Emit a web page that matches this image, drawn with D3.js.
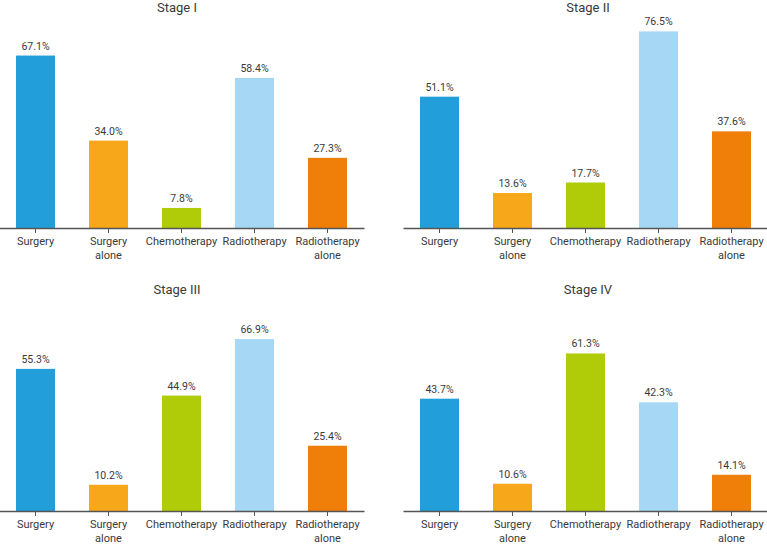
<!DOCTYPE html>
<html>
<head>
<meta charset="utf-8">
<script src="https://cdn.jsdelivr.net/npm/d3@7"></script>
<style>
  body { margin: 0; background: #fff; }
  svg text { font-family: "Roboto", "Noto Sans", sans-serif; fill: #3a3a3a; }
</style>
</head>
<body>
<svg id="chart"></svg>
<script>
const width = 767, height = 544;

// data
const categories = ["Surgery", "Surgery alone", "Chemotherapy", "Radiotherapy", "Radiotherapy alone"];
const stages = ["Stage I", "Stage II", "Stage III", "Stage IV"];
const stage1 = [67.1, 34.0, 7.8, 58.4, 27.3];
const stage2 = [51.1, 13.6, 17.7, 76.5, 37.6];
const stage3 = [55.3, 10.2, 44.9, 66.9, 25.4];
const stage4 = [43.7, 10.6, 61.3, 42.3, 14.1];
const stageValues = [stage1, stage2, stage3, stage4];
const colors = ["#229fdb", "#f6a81a", "#b0cb07", "#a6d8f5", "#f07f0a"];

const svg = d3.select("#chart")
    .attr("width", width)
    .attr("height", height);

const color = d3.scaleOrdinal().domain(categories).range(colors);

// panel layout: x range and axis baseline for each panel
const panels = [
    {x0: -1, x1: 364, base: 228, titleX: 177, titleY: 12},
    {x0: 403, x1: 768, base: 228, titleX: 588, titleY: 12},
    {x0: -1, x1: 364, base: 511, titleX: 177, titleY: 294},
    {x0: 403, x1: 768, base: 511, titleX: 588, titleY: 294}
];

panels.forEach((p, i) => {
    const data = categories.map((c, j) => ({cat: c, value: stageValues[i][j]}));

    const x = d3.scaleBand()
        .domain(categories)
        .range([p.x0, p.x1])
        .paddingInner(0.466)
        .paddingOuter(0.233);

    const y = d3.scaleLinear()
        .domain([0, 80])
        .range([p.base, p.base - 205.6]);

    const g = svg.append("g");

    g.append("text")
        .attr("x", p.titleX)
        .attr("y", p.titleY)
        .attr("text-anchor", "middle")
        .style("font-size", "13px")
        .text(stages[i]);

    g.selectAll("rect")
        .data(data)
        .enter().append("rect")
        .attr("x", d => x(d.cat))
        .attr("y", d => y(d.value))
        .attr("width", x.bandwidth())
        .attr("height", d => y(0) - y(d.value))
        .attr("fill", d => color(d.cat));

    g.selectAll(".val")
        .data(data)
        .enter().append("text")
        .attr("class", "val")
        .attr("x", d => x(d.cat) + x.bandwidth() / 2)
        .attr("y", d => y(d.value) - 6)
        .attr("text-anchor", "middle")
        .style("font-size", "10.5px")
        .text(d => d.value.toFixed(1) + "%");

    const axis = g.append("g")
        .attr("transform", `translate(0,${p.base})`)
        .call(d3.axisBottom(x).tickSize(5).tickSizeOuter(0).tickFormat(""));
    axis.select(".domain").attr("stroke", "#555").attr("stroke-width", 1.3);
    axis.selectAll(".tick line").attr("stroke", "#555");

    // category labels, wrapped on "alone"
    const lbl = g.selectAll(".cat")
        .data(categories)
        .enter().append("text")
        .attr("class", "cat")
        .attr("text-anchor", "middle")
        .style("font-size", "11px")
        .attr("transform", d => `translate(${x(d) + x.bandwidth() / 2},${p.base + 17})`);
    lbl.each(function(d) {
        const words = d.split(" ");
        const t = d3.select(this);
        const lines = words.length > 1 ? [words[0], words.slice(1).join(" ")] : [d];
        lines.forEach((l, k) => {
            t.append("tspan").attr("x", 0).attr("dy", k === 0 ? 0 : 14).text(l);
        });
    });
});
</script>
</body>
</html>
